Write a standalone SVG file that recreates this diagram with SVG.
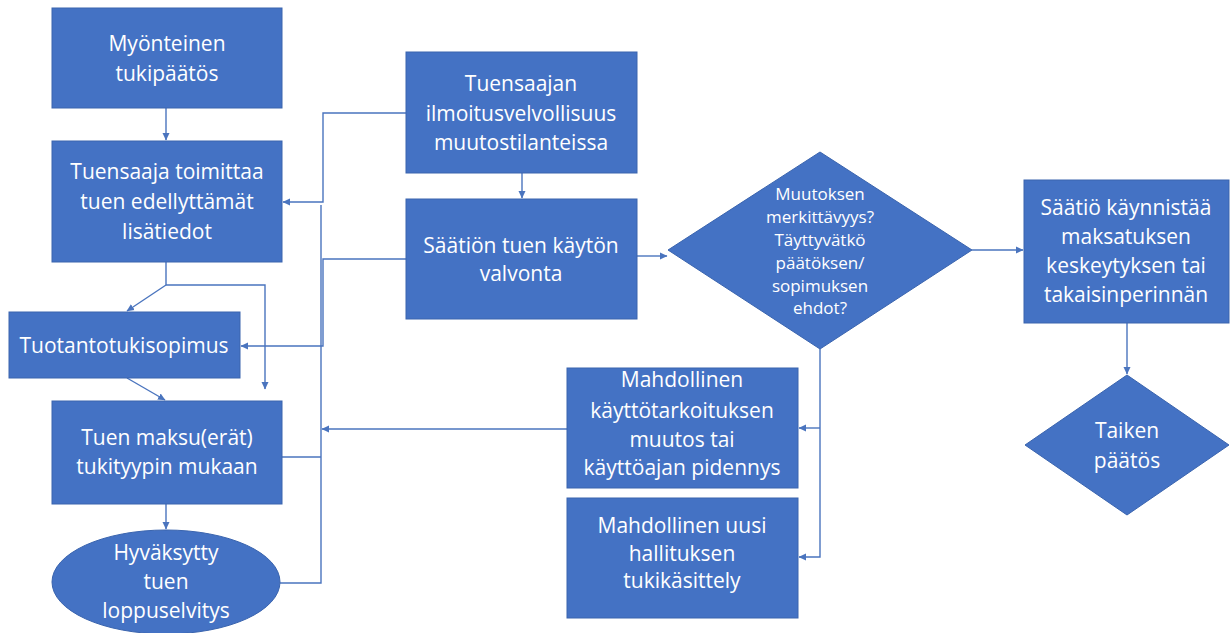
<svg xmlns="http://www.w3.org/2000/svg" width="1230" height="633" viewBox="0 0 1230 633">
<style>
.n{fill:#4472C4;stroke:#3A64AE;stroke-width:1}
.t{fill:#fff;font-family:"Open Sans","Noto Sans",sans-serif;font-size:21px;text-anchor:middle}
.s{font-size:17px}
.c{fill:none;stroke:#4A74BE;stroke-width:1.4}
</style>
<defs>
<marker id="a" markerWidth="8" markerHeight="8" refX="7" refY="4" orient="auto" markerUnits="userSpaceOnUse">
<path d="M0,0.5 L7.5,4 L0,7.5 Z" fill="#4A74BE"/>
</marker>
</defs>
<rect width="1230" height="633" fill="#fff"/>
<g id="connectors">
<path class="c" d="M166,108 V140" marker-end="url(#a)"/>
<path class="c" d="M166,262 V285 H265 V389" marker-end="url(#a)"/>
<path class="c" d="M166,285 L127,311" marker-end="url(#a)"/>
<path class="c" d="M127,378 L165,400" marker-end="url(#a)"/>
<path class="c" d="M166,504 V529" marker-end="url(#a)"/>
<path class="c" d="M406,113 H323 V202 H283" marker-end="url(#a)"/>
<path class="c" d="M406,259 H323 V346 H241" marker-end="url(#a)"/>
<path class="c" d="M280,583 H321 V205"/>
<path class="c" d="M282,457 H321"/>
<path class="c" d="M567,429 H322" marker-end="url(#a)"/>
<path class="c" d="M522,173 V198" marker-end="url(#a)"/>
<path class="c" d="M637,256 H667" marker-end="url(#a)"/>
<path class="c" d="M972,250 H1023" marker-end="url(#a)"/>
<path class="c" d="M1127,323 V374" marker-end="url(#a)"/>
<path class="c" d="M820,349 V557 H799" marker-end="url(#a)"/>
<path class="c" d="M820,428 H799" marker-end="url(#a)"/>
</g>
<g id="myonteinen">
<rect class="n" x="52" y="8" width="230" height="100"/>
<text class="t" x="167" y="51">Myönteinen</text>
<text class="t" x="167" y="81">tukipäätös</text>
</g>
<g id="toimittaa">
<rect class="n" x="52" y="141" width="230" height="121"/>
<text class="t" x="167" y="179">Tuensaaja toimittaa</text>
<text class="t" x="167" y="209">tuen edellyttämät</text>
<text class="t" x="167" y="239">lisätiedot</text>
</g>
<g id="tuotantotukisopimus">
<rect class="n" x="9" y="312" width="231" height="66"/>
<text class="t" x="124" y="353">Tuotantotukisopimus</text>
</g>
<g id="maksu">
<rect class="n" x="52" y="401" width="230" height="103"/>
<text class="t" x="167" y="445">Tuen maksu(erät)</text>
<text class="t" x="167" y="474">tukityypin mukaan</text>
</g>
<g id="loppuselvitys">
<ellipse class="n" cx="166" cy="582" rx="114" ry="52"/>
<text class="t" x="166" y="560">Hyväksytty</text>
<text class="t" x="166" y="589">tuen</text>
<text class="t" x="166" y="618">loppuselvitys</text>
</g>
<g id="ilmoitus">
<rect class="n" x="406" y="52" width="231" height="121"/>
<text class="t" x="521" y="91">Tuensaajan</text>
<text class="t" x="521" y="121">ilmoitusvelvollisuus</text>
<text class="t" x="521" y="150">muutostilanteissa</text>
</g>
<g id="valvonta">
<rect class="n" x="406" y="199" width="231" height="120"/>
<text class="t" x="521" y="253">Säätiön tuen käytön</text>
<text class="t" x="521" y="281">valvonta</text>
</g>
<g id="merkittavyys">
<polygon class="n" points="820,152 972,250 820,349 668,250"/>
<text class="t s" x="820" y="200">Muutoksen</text>
<text class="t s" x="820" y="223">merkittävyys?</text>
<text class="t s" x="820" y="246">Täyttyvätkö</text>
<text class="t s" x="820" y="269">päätöksen/</text>
<text class="t s" x="820" y="292">sopimuksen</text>
<text class="t s" x="820" y="314">ehdot?</text>
</g>
<g id="keskeytys">
<rect class="n" x="1024" y="180" width="205" height="143"/>
<text class="t" x="1126" y="215">Säätiö käynnistää</text>
<text class="t" x="1126" y="244">maksatuksen</text>
<text class="t" x="1126" y="273">keskeytyksen tai</text>
<text class="t" x="1126" y="302">takaisinperinnän</text>
</g>
<g id="taiken">
<polygon class="n" points="1127,375 1229,445 1127,515 1025,445"/>
<text class="t" x="1127" y="438">Taiken</text>
<text class="t" x="1127" y="468">päätös</text>
</g>
<g id="kayttotarkoitus">
<rect class="n" x="567" y="368" width="231" height="120"/>
<text class="t" x="682" y="387">Mahdollinen</text>
<text class="t" x="682" y="418">käyttötarkoituksen</text>
<text class="t" x="682" y="447">muutos tai</text>
<text class="t" x="682" y="475">käyttöajan pidennys</text>
</g>
<g id="tukikasittely">
<rect class="n" x="567" y="498" width="231" height="120"/>
<text class="t" x="682" y="533">Mahdollinen uusi</text>
<text class="t" x="682" y="561">hallituksen</text>
<text class="t" x="682" y="588">tukikäsittely</text>
</g>
</svg>
